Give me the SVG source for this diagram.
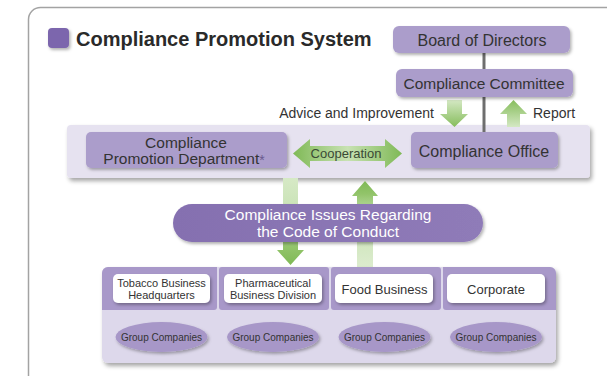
<svg xmlns="http://www.w3.org/2000/svg" width="607" height="376" viewBox="0 0 607 376">
<defs>
<style>
text{font-family:"Liberation Sans",Arial,sans-serif;}
.pbox{fill:#ab9dcb;}
.dark{fill:#333333;}
.wbox{fill:#ffffff;}
.ell{fill:#a797c8;}
.conn{stroke:#6e6e6e;stroke-width:3;fill:none;}
.mid{text-anchor:middle;}
</style>
<filter id="sh" x="-10%" y="-20%" width="125%" height="160%">
<feDropShadow dx="2" dy="3" stdDeviation="2" flood-color="#000" flood-opacity="0.35"/>
</filter>
<filter id="shs" x="-10%" y="-20%" width="125%" height="160%">
<feDropShadow dx="1.5" dy="2" stdDeviation="1.5" flood-color="#000" flood-opacity="0.3"/>
</filter>
<linearGradient id="gDown" x1="0" y1="0" x2="0" y2="1">
<stop offset="0" stop-color="#d4e8c3"/>
<stop offset="1" stop-color="#86bd5c"/>
</linearGradient>
<linearGradient id="gUp" x1="0" y1="1" x2="0" y2="0">
<stop offset="0" stop-color="#d4e8c3"/>
<stop offset="1" stop-color="#86bd5c"/>
</linearGradient>
<linearGradient id="gDownLong" x1="0" y1="178" x2="0" y2="265" gradientUnits="userSpaceOnUse">
<stop offset="0" stop-color="#d6e9c6"/>
<stop offset="0.55" stop-color="#c3e0ae"/>
<stop offset="0.8" stop-color="#92c46a"/>
<stop offset="1" stop-color="#7fb956"/>
</linearGradient>
<linearGradient id="gUpLong" x1="0" y1="267" x2="0" y2="181" gradientUnits="userSpaceOnUse">
<stop offset="0" stop-color="#dcecce"/>
<stop offset="0.6" stop-color="#c6e1b1"/>
<stop offset="0.85" stop-color="#92c46a"/>
<stop offset="1" stop-color="#7fb956"/>
</linearGradient>
<linearGradient id="gCoop" x1="293" y1="0" x2="402" y2="0" gradientUnits="userSpaceOnUse">
<stop offset="0" stop-color="#7fb956"/>
<stop offset="0.5" stop-color="#c8e2b3"/>
<stop offset="1" stop-color="#7fb956"/>
</linearGradient>
<linearGradient id="gPill" x1="0" y1="0" x2="1" y2="0">
<stop offset="0" stop-color="#8570b0"/>
<stop offset="1" stop-color="#8f7bb8"/>
</linearGradient>
</defs>

<!-- frame -->
<rect x="28.5" y="7.5" width="620" height="420" rx="12" fill="#ffffff" stroke="#a3a3a3" stroke-width="1.5"/>

<!-- title -->
<g id="title">
<rect x="48" y="28" width="21" height="20" rx="4" fill="#7c66ad" filter="url(#shs)"/>
<text x="76" y="46" font-size="20" font-weight="bold" fill="#2a2a2a">Compliance Promotion System</text>
</g>

<!-- light band -->
<g id="band">
<rect x="67" y="125" width="523" height="53" rx="4" fill="#e6e2f0" filter="url(#sh)"/>
</g>

<!-- connectors -->
<g id="connectors">
<line class="conn" x1="484" y1="53" x2="484" y2="69"/>
<line class="conn" x1="484" y1="97" x2="484" y2="132"/>
<!-- advice down arrow -->
<path d="M447,100 H462 V114 H468 L454.5,127 L440,114 H447 Z" fill="url(#gDown)"/>
<!-- report up arrow -->
<path d="M513.5,100 L527,114 H520 V127 H507 V114 H500 Z" fill="url(#gUp)"/>
<!-- cooperation double arrow -->
<path d="M293,153.5 L310,139 V146 H385 V139 L402,153.5 L385,168 V161 H310 V168 Z" fill="url(#gCoop)"/>
<!-- down arrow to business -->
<path d="M283,178 H298 V250 H304 L290.5,265 L277,250 H283 Z" fill="url(#gDownLong)"/>
<!-- up arrow from business -->
<path d="M365,181 L378,196 H373 V267 H357 V196 H352 Z" fill="url(#gUpLong)"/>
<line class="conn" x1="161.5" y1="303" x2="161.5" y2="322"/>
<line class="conn" x1="273" y1="303" x2="273" y2="322"/>
<line class="conn" x1="384.5" y1="303" x2="384.5" y2="322"/>
<line class="conn" x1="496" y1="303" x2="496" y2="322"/>
</g>

<g id="labels">
<text x="434" y="118" font-size="14" fill="#333" text-anchor="end">Advice and Improvement</text>
<text x="533" y="118" font-size="14" fill="#333">Report</text>
<text x="346" y="158" font-size="13" fill="#3a4a35" class="mid">Cooperation</text>
</g>

<g id="board">
<rect class="pbox" x="393" y="26" width="177" height="27" rx="6" filter="url(#shs)"/>
<text x="482" y="45.5" font-size="16" class="mid dark">Board of Directors</text>
</g>

<g id="committee">
<rect class="pbox" x="396" y="69" width="177" height="28" rx="6" filter="url(#shs)"/>
<text x="484" y="88.5" font-size="15.5" class="mid dark">Compliance Committee</text>
</g>

<g id="office">
<rect class="pbox" x="411" y="132" width="147" height="36" rx="5" filter="url(#shs)"/>
<text x="484" y="156.5" font-size="16" class="mid dark">Compliance Office</text>
</g>

<g id="department">
<rect class="pbox" x="86" y="132" width="201" height="36" rx="5" filter="url(#shs)"/>
<text x="186" y="147.5" font-size="15.5" class="mid dark">Compliance</text>
<text x="184" y="164" font-size="15.5" class="mid dark">Promotion Department<tspan font-size="14" dy="1" fill="#6a5a8e">*</tspan></text>
</g>

<!-- bottom band -->
<g id="businesses-band">
<rect x="102" y="267" width="454" height="96" rx="6" fill="#ddd8eb" filter="url(#sh)"/>
<path d="M102,273 a6,6 0 0 1 6,-6 H217 V307 a3,3 0 0 1 -3,3 H102 Z" fill="#a898c9"/>
<rect x="219" y="267" width="110" height="43" rx="3" fill="#a898c9"/>
<rect x="331" y="267" width="110" height="43" rx="3" fill="#a898c9"/>
<path d="M443,267 H550 a6,6 0 0 1 6,6 V310 H446 a3,3 0 0 1 -3,-3 Z" fill="#a898c9"/>
</g>

<g id="pill">
<rect x="173" y="204" width="310" height="38" rx="19" fill="url(#gPill)" filter="url(#shs)"/>
<text x="328" y="219.5" font-size="15.5" fill="#ffffff" class="mid">Compliance Issues Regarding</text>
<text x="328" y="236.5" font-size="15.5" fill="#ffffff" class="mid">the Code of Conduct</text>
</g>

<g id="tobacco">
<rect class="wbox" x="113" y="274" width="97" height="29" rx="5" filter="url(#shs)"/>
<text x="161.5" y="287" font-size="11" class="mid dark">Tobacco Business</text>
<text x="161.5" y="299" font-size="11" class="mid dark">Headquarters</text>
</g>
<g id="pharma">
<rect class="wbox" x="224" y="274" width="98" height="29" rx="5" filter="url(#shs)"/>
<text x="273" y="287" font-size="11" class="mid dark">Pharmaceutical</text>
<text x="273" y="299" font-size="11" class="mid dark">Business Division</text>
</g>
<g id="food">
<rect class="wbox" x="335" y="274" width="98" height="29" rx="5" filter="url(#shs)"/>
<text x="384.5" y="293.5" font-size="13" class="mid dark">Food Business</text>
</g>
<g id="corporate">
<rect class="wbox" x="447" y="274" width="98" height="29" rx="5" filter="url(#shs)"/>
<text x="496" y="293.5" font-size="13" class="mid dark">Corporate</text>
</g>

<g id="gc1">
<ellipse class="ell" cx="161.5" cy="337" rx="46" ry="15" filter="url(#shs)"/>
<text x="161.5" y="340.5" font-size="10" class="mid dark">Group Companies</text>
</g>
<g id="gc2">
<ellipse class="ell" cx="273" cy="337" rx="46" ry="15" filter="url(#shs)"/>
<text x="273" y="340.5" font-size="10" class="mid dark">Group Companies</text>
</g>
<g id="gc3">
<ellipse class="ell" cx="384.5" cy="337" rx="46" ry="15" filter="url(#shs)"/>
<text x="384.5" y="340.5" font-size="10" class="mid dark">Group Companies</text>
</g>
<g id="gc4">
<ellipse class="ell" cx="496" cy="337" rx="46" ry="15" filter="url(#shs)"/>
<text x="496" y="340.5" font-size="10" class="mid dark">Group Companies</text>
</g>
</svg>
